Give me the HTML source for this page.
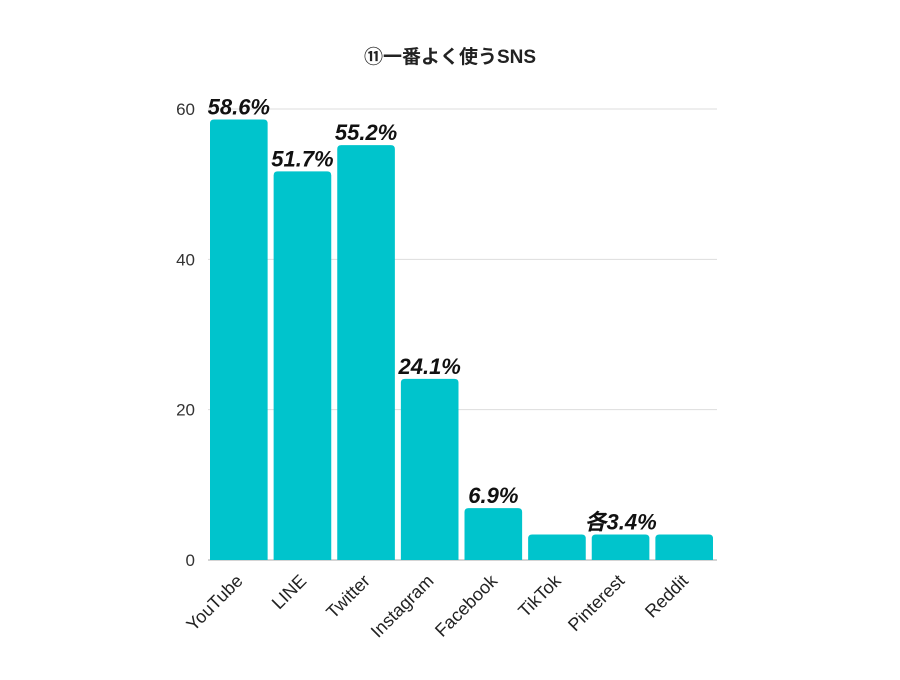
<!DOCTYPE html>
<html><head><meta charset="utf-8"><style>
body{margin:0;background:#fff;}
svg text{font-family:"Liberation Sans","Noto Sans CJK JP",sans-serif;}
</style></head><body>
<svg id="chart" width="900" height="675" xmlns="http://www.w3.org/2000/svg">
<text x="450" y="63" text-anchor="middle" font-size="19" font-weight="bold" fill="#222">⑪一番よく使うSNS</text>
<g id="grid"></g><g id="bars"></g><g id="labels"></g>
</svg>
<script>
const categories=["YouTube","LINE","Twitter","Instagram","Facebook","TikTok","Pinterest","Reddit"];
const values=[58.6,51.7,55.2,24.1,6.9,3.4,3.4,3.4];
const valueLabels=["58.6%","51.7%","55.2%","24.1%","6.9%","","各3.4%",""];
const yTicks=[0,20,40,60];
const NS="http://www.w3.org/2000/svg";
const x0=208,x1=717,y0=560,yTop=109,yMax=60;
const band=(x1-x0)/categories.length;
const y=v=>y0-(v/yMax)*(y0-yTop);
const xb=i=>x0+i*band;
function mk(t,a,p){const e=document.createElementNS(NS,t);for(const k in a)e.setAttribute(k,a[k]);p.appendChild(e);return e;}
const grid=document.getElementById('grid'),bars=document.getElementById('bars'),labels=document.getElementById('labels');
yTicks.forEach(t=>{
  const l=mk('line',{x1:x0,x2:x1,y1:y(t),y2:y(t),stroke:t===0?'#aaa':'#ddd','stroke-width':1},grid);
  
  
  const tx=mk('text',{x:195,y:y(t)+6,'text-anchor':'end','font-size':17,fill:'#333'},grid);
  tx.textContent=t;
  
  
});
categories.forEach((c,i)=>{
  const bx=xb(i)+2,bw=band-6,top=y(values[i]);
  const r=mk('path',{d:`M${bx},${y0} V${top+4} Q${bx},${top} ${bx+4},${top} H${bx+bw-4} Q${bx+bw},${top} ${bx+bw},${top+4} V${y0} Z`,fill:'#00c4cc'},bars);
  
  
  const cx=bx+bw/2;
  if(valueLabels[i]){
    const t=mk('text',{x:cx,y:top-5,'text-anchor':'middle','font-size':22,'font-weight':'bold','font-style':'italic',fill:'#111'},labels);
    t.textContent=valueLabels[i];
    
    
  }
  const xl=mk('text',{x:0,y:0,'text-anchor':'end','font-size':18,fill:'#222',transform:`translate(${cx+5},${582}) rotate(-45)`},labels);
  xl.textContent=c;
  
  
});
</script>
</body></html>
